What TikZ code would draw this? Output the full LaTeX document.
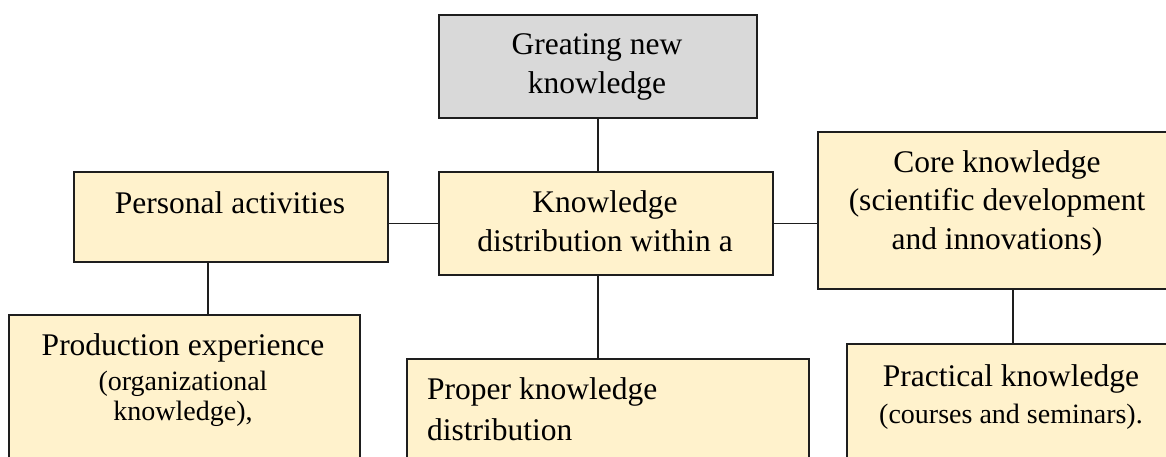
\documentclass[tikz,border=0pt]{standalone}
\usepackage{fontspec}
\setmainfont{Liberation Serif}
\definecolor{boxy}{HTML}{FFF2CC}
\definecolor{boxg}{HTML}{D9D9D9}
\definecolor{linec}{HTML}{1E1E1E}
\newcommand{\mainfnt}{\fontsize{31.5}{38}\selectfont}
\newcommand{\smallfnt}{\fontsize{28}{32}\selectfont}
\tikzset{
  boxbase/.style={draw=linec, line width=1.8pt, inner sep=0pt, anchor=north west},
  ybox/.style={boxbase, fill=boxy},
  gbox/.style={boxbase, fill=boxg},
  txt/.style={anchor=base, inner sep=0pt, font=\mainfnt, text=black},
  conn/.style={draw=linec, line width=1.5pt},
}
\begin{document}
\begin{tikzpicture}[x=1pt,y=1pt]
\useasboundingbox (0,0) rectangle (1166,-457);
\clip (0,0) rectangle (1166,-457);
% boxes
\node[gbox, minimum width=318pt, minimum height=103pt] (gray) at (438,-14) {};
\node[ybox, minimum width=314pt, minimum height=90pt] (pa) at (73,-171) {};
\node[ybox, minimum width=334pt, minimum height=103pt] (kd) at (438,-171) {};
\node[ybox, minimum width=361pt, minimum height=157pt] (core) at (817,-131) {};
\node[ybox, minimum width=351pt, minimum height=180pt] (prod) at (8,-314) {};
\node[ybox, minimum width=402pt, minimum height=140pt] (proper) at (406,-358) {};
\node[ybox, minimum width=332pt, minimum height=150pt] (pract) at (846,-343) {};
% connectors
\draw[conn] (gray.south) -- (gray.south |- kd.north);
\draw[conn] (kd.west) -- (kd.west -| pa.east);
\draw[conn] (kd.east) -- (kd.east -| core.west);
\draw[conn] ([xshift=-23pt]pa.south) -- ([xshift=-23pt]pa.south |- prod.north);
\draw[conn] (gray.south |- kd.south) -- (gray.south |- proper.north);
\draw[conn] (pract.north |- core.south) -- (pract.north);
% texts
\node[txt] (tgray) at (597,-55) {\begin{tabular}[t]{@{}c@{}}Greating new\\[1pt] knowledge\end{tabular}};
\node[txt] (tpa) at (230,-213) {Personal activities};
\node[txt] (tkd) at (605,-212) {\begin{tabular}[t]{@{}c@{}}Knowledge\\[1.5pt] distribution within a\end{tabular}};
\node[txt] (tcore) at (997,-173) {\begin{tabular}[t]{@{}c@{}}Core knowledge\\ (scientific development\\ and innovations)\end{tabular}};
\node[txt] (tprod) at (183,-355) {\begin{tabular}[t]{@{}c@{}}Production experience\\[-3pt] {\smallfnt (organizational}\\[-8pt] {\smallfnt knowledge),}\end{tabular}};
\node[txt, anchor=base west] (tproper) at (427,-399) {\begin{tabular}[t]{@{}l@{}}Proper knowledge\\[3pt] distribution\end{tabular}};
\node[txt] (tpract) at (1011,-386) {\begin{tabular}[t]{@{}c@{}}Practical knowledge\\[-1pt] {\smallfnt (courses and seminars).}\end{tabular}};
\end{tikzpicture}
\end{document}
